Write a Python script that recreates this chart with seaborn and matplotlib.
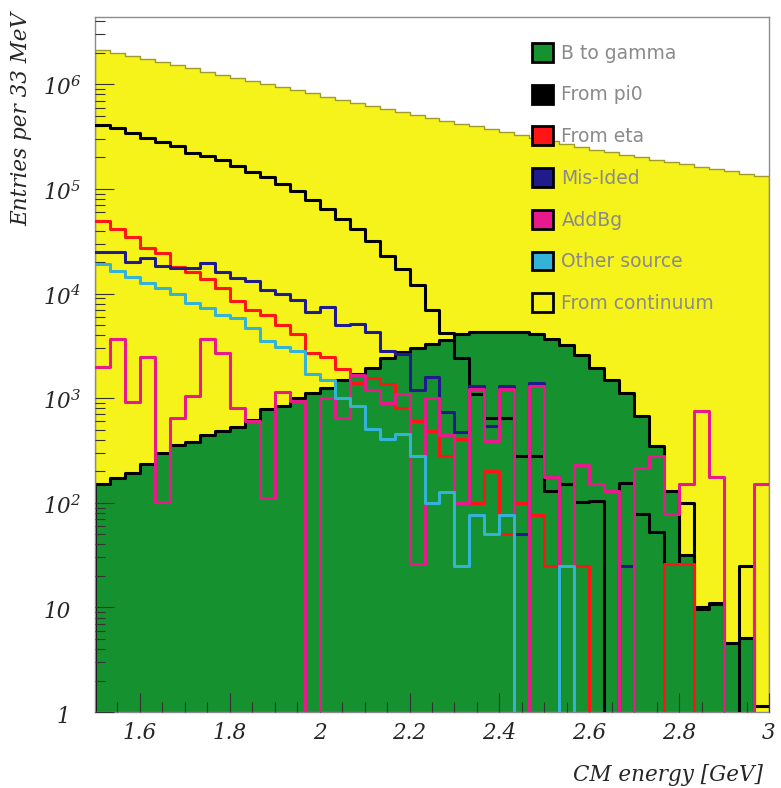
import numpy as np
import matplotlib.pyplot as plt
import seaborn as sns
from matplotlib.patches import Patch

# 45 bins of 33 MeV between 1.5 and 3.0 GeV
edges = list(np.linspace(1.5, 3.0, 46))
centers = [(a + b) / 2 for a, b in zip(edges[:-1], edges[1:])]

# entries per bin
continuum = [2.14e6, 2.0e6, 1.86e6, 1.74e6, 1.62e6, 1.52e6, 1.42e6, 1.32e6, 1.24e6, 1.15e6,
             1.08e6, 1.0e6, 9.4e5, 8.8e5, 8.2e5, 7.6e5, 7.1e5, 6.7e5, 6.2e5, 5.8e5,
             5.4e5, 5.1e5, 4.8e5, 4.5e5, 4.2e5, 3.96e5, 3.71e5, 3.48e5, 3.27e5, 3.06e5,
             2.87e5, 2.7e5, 2.52e5, 2.37e5, 2.24e5, 2.13e5, 2.02e5, 1.91e5, 1.81e5, 1.72e5,
             1.63e5, 1.55e5, 1.47e5, 1.39e5, 1.32e5]
b_to_gamma = [152, 174, 194, 236, 300, 360, 382, 447, 490, 535,
              620, 790, 850, 1000, 1130, 1260, 1480, 1700, 1960, 2400,
              2750, 3000, 3300, 3600, 4100, 4250, 4300, 4300, 4300, 4150,
              3700, 3200, 2600, 1950, 1480, 1120, 680, 350, 130, 32,
              9.7, 10.8, 4.6, 5.1, 0]
from_pi0 = [4.1e5, 3.8e5, 3.4e5, 3.1e5, 2.8e5, 2.6e5, 2.2e5, 2.05e5, 1.87e5, 1.65e5,
            1.45e5, 1.29e5, 1.12e5, 9.5e4, 7.9e4, 6.5e4, 5.2e4, 4.1e4, 3.2e4, 2.3e4,
            1.7e4, 1.2e4, 6900, 4200, 2400, 1100, 650, 640, 280, 280,
            130, 152, 102, 105, 0, 155, 78, 52, 26, 100,
            10, 11, 0, 25, 1.15]
from_eta = [4.9e4, 4.1e4, 3.5e4, 2.75e4, 2.46e4, 1.8e4, 1.6e4, 1.38e4, 1.12e4, 8500,
            6900, 6300, 5000, 4100, 2700, 2450, 1900, 1400, 1550, 1370,
            810, 600, 490, 280, 410, 100, 203, 50, 100, 77,
            25, 25, 25, 0, 0, 0, 0, 0, 26, 26,
            0, 0, 0, 0, 0]
mis_ided = [2.5e4, 2.5e4, 2.0e4, 2.2e4, 1.85e4, 1.77e4, 1.75e4, 1.95e4, 1.6e4, 1.4e4,
            1.32e4, 1.07e4, 9800, 8700, 6700, 7400, 5000, 5100, 4300, 2800,
            2650, 1200, 1600, 740, 470, 1300, 540, 1300, 50, 1400,
            175, 0, 0, 0, 0, 25, 0, 0, 0, 0,
            0, 0, 0, 0, 0]
add_bg = [2000, 3700, 910, 2450, 102, 640, 1050, 3700, 2700, 810,
          600, 110, 1150, 930, 0, 1000, 640, 1670, 1200, 890,
          1100, 26, 1000, 440, 100, 1230, 390, 1230, 0, 1300,
          175, 0, 230, 152, 130, 0, 213, 280, 78, 152,
          760, 178, 0, 0, 152]
other_source = [1.9e4, 1.66e4, 1.45e4, 1.27e4, 1.14e4, 9800, 8200, 7200, 6200, 5800,
                4650, 3550, 3100, 2800, 1700, 1480, 1000, 850, 510, 410,
                455, 280, 100, 127, 25, 76, 50, 76, 0, 0,
                0, 25, 0, 0, 0, 0, 0, 0, 0, 0,
                0, 0, 0, 0, 0]

xtick_labels = ['1.6', '1.8', '2', '2.2', '2.4', '2.6', '2.8', '3']
legend_labels = ['B to gamma', 'From pi0', 'From eta', 'Mis-Ided', 'AddBg',
                 'Other source', 'From continuum']

yellow = '#f6f31a'
green = '#169130'
red = '#ff1515'
navy = '#1f1b8c'
pink = '#e8198b'
cyan = '#35b2d8'

sns.set_style('white')
plt.rcParams['font.family'] = ['DejaVu Serif']
plt.rcParams['mathtext.fontset'] = 'custom'
plt.rcParams['mathtext.rm'] = 'DejaVu Serif:italic'
plt.rcParams['mathtext.it'] = 'DejaVu Serif:italic'

fig = plt.figure(figsize=(7.81, 7.88), dpi=100)
ax = fig.add_axes([95 / 781, 1 - 712 / 788, 674 / 781, 695 / 788])
ax.set_yscale('log')

# filled histograms first
sns.histplot(x=centers, weights=continuum, bins=edges, element='step', fill=True,
             color=yellow, edgecolor='#a09c2c', linewidth=1.0, alpha=1, ax=ax, zorder=1)
sns.histplot(x=centers, weights=b_to_gamma, bins=edges, element='step', fill=True,
             color=green, edgecolor='black', linewidth=2.2, alpha=1, ax=ax, zorder=2)

# outline histograms on top
lines = [(from_pi0, 'black'), (from_eta, red), (mis_ided, navy),
         (add_bg, pink), (other_source, cyan)]
for vals, col in lines:
    sns.histplot(x=centers, weights=vals, bins=edges, element='step', fill=False,
                 color=col, linewidth=2.2, ax=ax, zorder=3)

ax.set_xlim(1.5, 3.0)
ax.set_ylim(1, 4.4e6)
ax.set_xlabel('')
ax.set_ylabel('')
ax.set_axisbelow(False)

ax.set_xticks([float(s) for s in xtick_labels], xtick_labels)
ax.set_xticks(np.arange(1.55, 3.0, 0.05), minor=True)
ax.set_yticks([10.0 ** k for k in range(7)], [''] * 7)
ax.yaxis.set_minor_locator(plt.LogLocator(base=10, subs=range(2, 10), numticks=20))
ax.yaxis.set_minor_formatter(plt.NullFormatter())
ax.tick_params(which='major', direction='in', length=14, width=0.8, color='#333333',
               bottom=True, left=True, top=False, right=False)
ax.tick_params(which='minor', direction='in', length=7, width=0.8, color='#333333',
               bottom=True, left=True, top=False, right=False)
ax.tick_params(axis='x', labelsize=15.5, pad=7)
for lab in ax.get_xticklabels():
    lab.set_fontstyle('italic')
for s in ax.spines.values():
    s.set_color('#8c8c8c')
    s.set_linewidth(1.0)

# ROOT-like y tick labels
for k in range(7):
    if k == 0:
        txt, dx = '1', -27.4
    elif k == 1:
        txt, dx = '10', -37.4
    else:
        txt, dx = '$10^{%d}$' % k, -37.4
    ax.annotate(txt, xy=(0, 10.0 ** k), xycoords=('axes fraction', 'data'),
                xytext=(dx, -8), textcoords='offset points', ha='left', va='baseline',
                fontsize=15.5, fontstyle='italic', annotation_clip=False)

handles = [Patch(facecolor=c, edgecolor='black', linewidth=2)
           for c in [green, 'black', red, navy, pink, cyan, yellow]]
ax.legend(handles, legend_labels, loc='upper left',
          bbox_to_anchor=((532 - 95) / 674, (712 - 43) / 695), frameon=False,
          borderpad=0, borderaxespad=0, handlelength=1.12, handleheight=1.17,
          handletextpad=0.45, labelspacing=1.17,
          prop={'family': 'DejaVu Sans', 'size': 13.5}, labelcolor='#8a8a8a')

fig.text(763 / 781, 1 - 781 / 788, 'CM energy [GeV]', ha='right', va='baseline',
         fontsize=15.5, fontstyle='italic')
fig.text(21 / 781, 1 - 12 / 788, 'Entries per 33 MeV', rotation=90, ha='center',
         va='top', fontsize=15.5, fontstyle='italic')

fig.savefig('out.png', dpi=100)
